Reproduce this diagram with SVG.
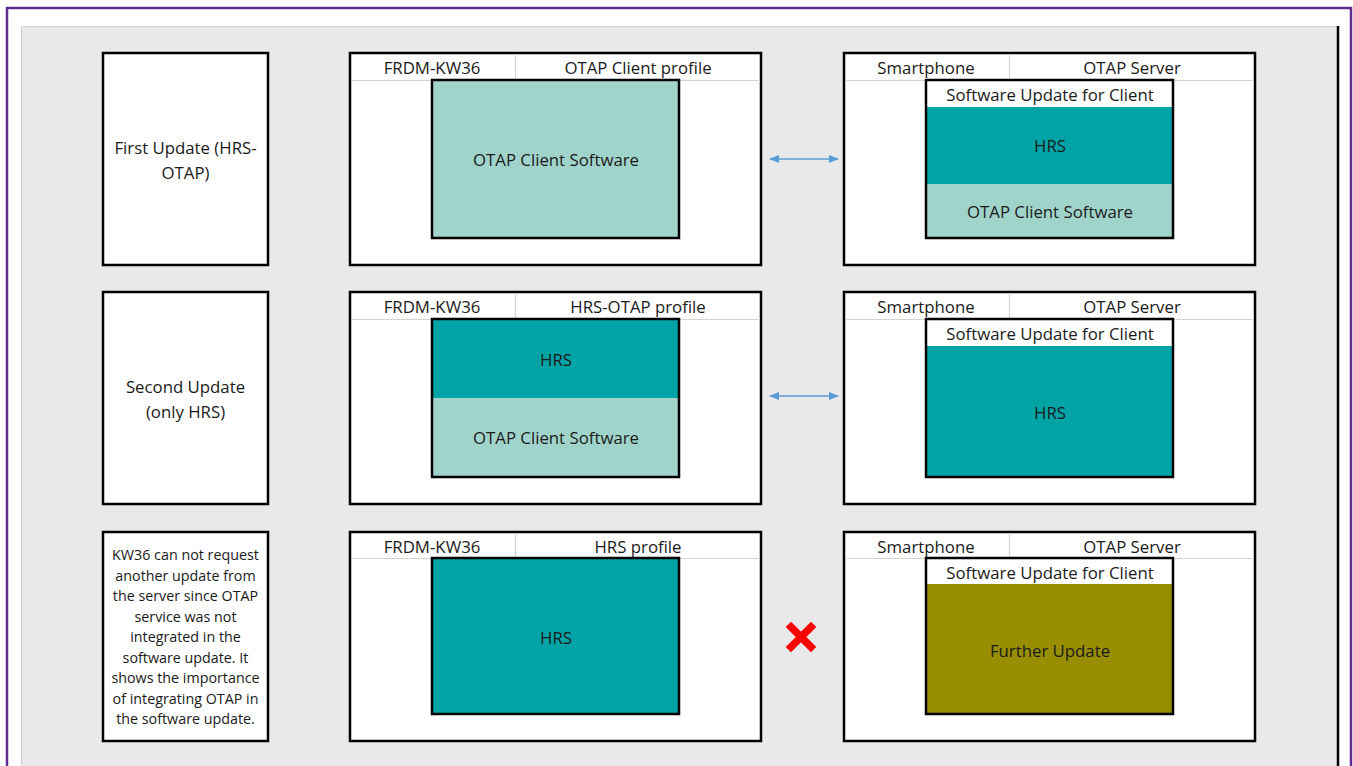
<svg xmlns="http://www.w3.org/2000/svg" width="1353" height="766" viewBox="0 0 1353 766">
<style>
.t{font-family:"Open Sans","Liberation Sans",Arial,sans-serif;font-size:16.8px;fill:#1a1a1a;text-anchor:middle}
.s{font-family:"Open Sans","Liberation Sans",Arial,sans-serif;font-size:14.3px;fill:#1a1a1a;text-anchor:middle}
.box{fill:#ffffff;stroke:#000;stroke-width:2.5}
.inner{stroke:#000;stroke-width:2.5;fill:none}
.hl{stroke:#d4d4d4;stroke-width:1.2}
.lt{fill:#a0d4cb}
.tl{fill:#00a4a6}
.ol{fill:#978f00}
.conn{stroke:#5b9bd5;stroke-width:1.5;fill:none}
</style>
<defs>
<marker id="ah" viewBox="0 0 10 10" refX="9" refY="5" markerWidth="7" markerHeight="7" orient="auto-start-reverse">
<path d="M0,1 L10,5 L0,9 z" fill="#5b9bd5"/>
</marker>
</defs>
<rect x="0" y="0" width="1353" height="766" fill="#ffffff"/>
<rect x="7" y="8" width="1344" height="770" fill="none" stroke="#5f2d91" stroke-width="2.5"/>
<rect x="21" y="26" width="1316" height="750" fill="#e9e9e9"/>
<line x1="21" y1="26.5" x2="1337" y2="26.5" stroke="#d0d0d0" stroke-width="1"/>
<line x1="21.5" y1="26" x2="21.5" y2="766" stroke="#d0d0d0" stroke-width="1"/>
<line x1="1338" y1="26" x2="1338" y2="766" stroke="#000" stroke-width="2.5"/>

<!-- Row 1 -->
<g id="label1">
<rect class="box" x="103" y="53" width="165" height="212"/>
<text class="t" x="185.5" y="154">First Update (HRS-</text>
<text class="t" x="185.5" y="179">OTAP)</text>
</g>
<g id="client1">
<rect class="box" x="350" y="53" width="411" height="212"/>
<line class="hl" x1="351" y1="80.5" x2="760" y2="80.5"/>
<line class="hl" x1="515.5" y1="54" x2="515.5" y2="80"/>
<text class="t" x="432" y="74">FRDM-KW36</text>
<text class="t" x="638" y="74">OTAP Client profile</text>
<rect class="lt" x="432" y="80" width="247" height="158"/>
<rect class="inner" x="432" y="80" width="247" height="158"/>
<text class="t" x="556" y="166">OTAP Client Software</text>
</g>
<g id="server1">
<rect class="box" x="844" y="53" width="411" height="212"/>
<line class="hl" x1="845" y1="80.5" x2="1254" y2="80.5"/>
<line class="hl" x1="1009.5" y1="54" x2="1009.5" y2="80"/>
<text class="t" x="926" y="74">Smartphone</text>
<text class="t" x="1132" y="74">OTAP Server</text>
<rect fill="#fff" x="926" y="80" width="247" height="27"/>
<rect class="tl" x="926" y="107" width="247" height="77"/>
<rect class="lt" x="926" y="184" width="247" height="54"/>
<rect class="inner" x="926" y="80" width="247" height="158"/>
<text class="t" x="1050" y="101">Software Update for Client</text>
<text class="t" x="1050" y="152">HRS</text>
<text class="t" x="1050" y="218">OTAP Client Software</text>
</g>

<!-- Row 2 -->
<g id="label2">
<rect class="box" x="103" y="292" width="165" height="212"/>
<text class="t" x="185.5" y="393">Second Update</text>
<text class="t" x="185.5" y="418">(only HRS)</text>
</g>
<g id="client2">
<rect class="box" x="350" y="292" width="411" height="212"/>
<line class="hl" x1="351" y1="319.5" x2="760" y2="319.5"/>
<line class="hl" x1="515.5" y1="293" x2="515.5" y2="319"/>
<text class="t" x="432" y="313">FRDM-KW36</text>
<text class="t" x="638" y="313">HRS-OTAP profile</text>
<rect class="tl" x="432" y="319" width="247" height="79"/>
<rect class="lt" x="432" y="398" width="247" height="79"/>
<rect class="inner" x="432" y="319" width="247" height="158"/>
<text class="t" x="556" y="366">HRS</text>
<text class="t" x="556" y="444">OTAP Client Software</text>
</g>
<g id="server2">
<rect class="box" x="844" y="292" width="411" height="212"/>
<line class="hl" x1="845" y1="319.5" x2="1254" y2="319.5"/>
<line class="hl" x1="1009.5" y1="293" x2="1009.5" y2="319"/>
<text class="t" x="926" y="313">Smartphone</text>
<text class="t" x="1132" y="313">OTAP Server</text>
<rect fill="#fff" x="926" y="319" width="247" height="27"/>
<rect class="tl" x="926" y="346" width="247" height="131"/>
<rect class="inner" x="926" y="319" width="247" height="158"/>
<text class="t" x="1050" y="340">Software Update for Client</text>
<text class="t" x="1050" y="419">HRS</text>
</g>

<!-- Row 3 -->
<g id="label3">
<rect class="box" x="103" y="532" width="165" height="209"/>
<text class="s" x="185.5" y="560">KW36 can not request</text>
<text class="s" x="185.5" y="580.5">another update from</text>
<text class="s" x="185.5" y="601">the server since OTAP</text>
<text class="s" x="185.5" y="621.5">service was not</text>
<text class="s" x="185.5" y="642">integrated in the</text>
<text class="s" x="185.5" y="662.5">software update. It</text>
<text class="s" x="185.5" y="683">shows the importance</text>
<text class="s" x="185.5" y="703.5">of integrating OTAP in</text>
<text class="s" x="185.5" y="724">the software update.</text>
</g>
<g id="client3">
<rect class="box" x="350" y="532" width="411" height="209"/>
<line class="hl" x1="351" y1="558.5" x2="760" y2="558.5"/>
<line class="hl" x1="515.5" y1="533" x2="515.5" y2="558"/>
<text class="t" x="432" y="553">FRDM-KW36</text>
<text class="t" x="638" y="553">HRS profile</text>
<rect class="tl" x="432" y="558" width="247" height="156"/>
<rect class="inner" x="432" y="558" width="247" height="156"/>
<text class="t" x="556" y="644">HRS</text>
</g>
<g id="server3">
<rect class="box" x="844" y="532" width="411" height="209"/>
<line class="hl" x1="845" y1="558.5" x2="1254" y2="558.5"/>
<line class="hl" x1="1009.5" y1="533" x2="1009.5" y2="558"/>
<text class="t" x="926" y="553">Smartphone</text>
<text class="t" x="1132" y="553">OTAP Server</text>
<rect fill="#fff" x="926" y="558" width="247" height="26"/>
<rect class="ol" x="926" y="584" width="247" height="130"/>
<rect class="inner" x="926" y="558" width="247" height="156"/>
<text class="t" x="1050" y="579">Software Update for Client</text>
<text class="t" x="1050" y="657">Further Update</text>
</g>

<g id="connectors">
<line class="conn" x1="770" y1="159" x2="838" y2="159" marker-start="url(#ah)" marker-end="url(#ah)"/>
<line class="conn" x1="770" y1="396" x2="838" y2="396" marker-start="url(#ah)" marker-end="url(#ah)"/>
</g>
<g id="cross">
<path d="M791,627 L811,647 M811,627 L791,647" stroke="#ff0000" stroke-width="7.5" stroke-linecap="square"/>
</g>
</svg>
